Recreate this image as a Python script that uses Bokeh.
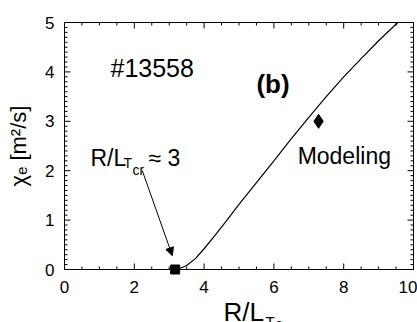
import numpy as np
from bokeh.plotting import figure
from bokeh.models import Range1d, Label, Arrow, NormalHead, FixedTicker
from bokeh.embed import file_html
from bokeh.resources import INLINE

# ---- data ----
curve_x = [3.15, 3.3, 3.5, 3.75, 4.0, 4.3, 4.6, 5.0, 5.5, 6.0, 6.5, 7.0, 7.5, 8.0, 8.5, 9.0, 9.55]
curve_y = [0.0, 0.02, 0.08, 0.22, 0.42, 0.68, 0.95, 1.32, 1.76, 2.2, 2.65, 3.08, 3.5, 3.9, 4.27, 4.63, 5.0]
crit_x = [3.17]
crit_y = [0.0]
model_x = [7.28]
model_y = [3.0]
arrow_start = (2.23, 2.0)
arrow_end = (3.09, 0.28)

x_ticks = [0, 2, 4, 6, 8, 10]
y_ticks = [0, 1, 2, 3, 4, 5]
x_minor_step = 0.5
y_minor_step = 0.1

FONT = "Liberation Sans"

# ---- layout geometry (pixels) ----
W, H = 417, 322
x0_px, y0_px = 64, 269        # where (0, 0) sits on the canvas
px_x = 34.9                   # px per x unit
px_y = 49.4                   # px per y unit
x_start = -x0_px / px_x
x_end = (W - x0_px) / px_x
y_start = -(H - y0_px) / px_y
y_end = y0_px / px_y

p = figure(width=W, height=H, x_range=Range1d(x_start, x_end), y_range=Range1d(y_start, y_end),
           output_backend="svg", toolbar_location=None,
           min_border_left=0, min_border_right=0, min_border_top=0, min_border_bottom=0)
p.background_fill_color = "white"
p.border_fill_color = "white"
p.outline_line_color = None
p.xgrid.visible = False
p.ygrid.visible = False

for ax in (p.xaxis[0], p.yaxis[0]):
    ax.major_tick_in = 0
    ax.major_tick_out = 0
    ax.minor_tick_in = 0
    ax.minor_tick_out = 0
    ax.axis_line_color = "black"
    ax.axis_line_width = 1
    ax.major_label_text_font = FONT
    ax.major_label_text_color = "black"
    ax.major_label_text_font_size = "17px"
    ax.fixed_location = 0

p.xaxis[0].ticker = FixedTicker(ticks=x_ticks)
p.yaxis[0].ticker = FixedTicker(ticks=y_ticks)
p.xaxis[0].bounds = (0, 10)
p.yaxis[0].bounds = (0, 5)
p.xaxis[0].major_label_standoff = 11
p.yaxis[0].major_label_standoff = 10

p.yaxis[0].axis_label = "χₑ [m²/s]"
p.yaxis[0].axis_label_text_font = FONT
p.yaxis[0].axis_label_text_font_style = "normal"
p.yaxis[0].axis_label_text_color = "black"
p.yaxis[0].axis_label_text_font_size = "22px"
p.yaxis[0].axis_label_standoff = 11

# box top/right lines
p.line([0, 10], [5, 5], line_color="black", line_width=1)
p.line([10, 10], [0, 5], line_color="black", line_width=1)

# tick marks (inward, on all four sides)
xmaj = [float(v) for v in x_ticks]
ymaj = [float(v) for v in y_ticks]
xmin = [float(v) for v in np.arange(0, 10 + 1e-9, x_minor_step) if min(abs(v - np.array(xmaj))) > 1e-6]
ymin = [float(v) for v in np.arange(0, 5 + 1e-9, y_minor_step) if min(abs(v - np.array(ymaj))) > 1e-6]
MAJ, MIN = 6, 3
txs, tys = [], []
for xs, L in ((xmaj, MAJ), (xmin, MIN)):
    for v in xs:
        txs.append([v, v]); tys.append([0.0, L / px_y])
        txs.append([v, v]); tys.append([5.0, 5.0 - L / px_y])
for ys, L in ((ymaj, MAJ), (ymin, MIN)):
    for v in ys:
        txs.append([0.0, L / px_x]); tys.append([v, v])
        txs.append([10.0, 10.0 - L / px_x]); tys.append([v, v])
p.multi_line(xs=txs, ys=tys, line_color="black", line_width=1)

# data
p.line(curve_x, curve_y, line_color="black", line_width=1.2)
p.scatter(crit_x, crit_y, marker="square", size=9, color="black")
p.scatter(model_x, model_y, marker="diamond", size=14, color="black")

p.add_layout(Arrow(end=NormalHead(size=8, fill_color="black", line_color="black"),
                   x_start=arrow_start[0], y_start=arrow_start[1],
                   x_end=arrow_end[0], y_end=arrow_end[1], line_width=1, line_color="black"))

def lab(x, y, t, size, style="normal"):
    p.add_layout(Label(x=x, y=y, text=t, text_font=FONT, text_font_size=size,
                       text_font_style=style, text_baseline="alphabetic", text_align="left",
                       text_color="black"))

lab(1.318, 4.07, "#13558", "25px")
lab(5.50, 3.76, "(b)", "26px", "bold")
lab(6.68, 2.29, "Modeling", "23px")
lab(0.745, 2.267, "R/L", "23px")
lab(1.69, 2.146, "T", "14px")
lab(1.95, 2.024, "cr", "14px")
lab(2.407, 2.267, "≈ 3", "23px")

# x axis label pieces
lab(4.556, -0.870, "R/L", "26px")
lab(5.759, -1.062, "T", "15px")
lab(6.046, -1.09, "e", "13px")

open("out.html", "w").write(file_html(p, INLINE))
